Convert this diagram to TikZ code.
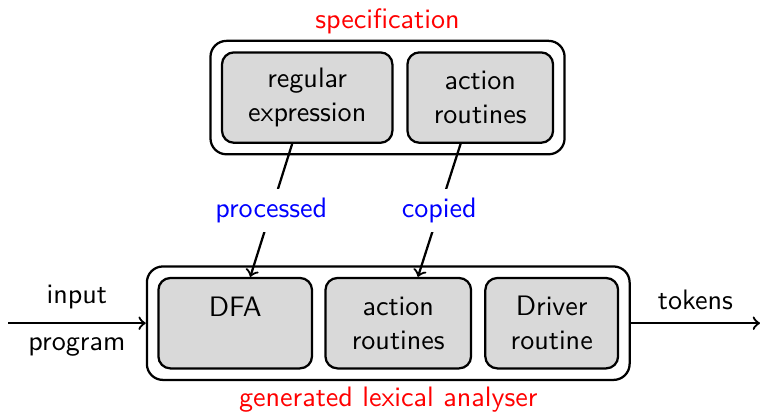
\documentclass[tikz,border=0pt]{standalone}
\usetikzlibrary{positioning,fit}
\begin{document}
\begin{tikzpicture}[font=\sffamily,
    part/.style={draw,thick,rounded corners=1.5mm,fill=gray!30,align=center,minimum height=1.13cm,inner sep=2pt},
    outer/.style={draw,thick,rounded corners=2mm,inner sep=0.13cm},
    flow/.style={thick,->}]
    \useasboundingbox (0,0) rectangle (9.5,5.15);
    \node [part,minimum width=2.13cm] (regexp) at (3.84,3.93) {regular\\expression};
    \node [part,minimum width=1.82cm,right=0.16cm of regexp] (acttop) {action\\routines};
    \node [outer,fit=(regexp)(acttop),label={[red,inner sep=2pt]above:specification}] (spec) {};
    \node [part,minimum width=1.92cm] (dfa) at (2.94,1.11) {DFA\\\mbox{}};
    \node [part,minimum width=1.82cm,right=0.14cm of dfa] (actbot) {action\\routines};
    \node [part,minimum width=1.66cm,right=0.15cm of actbot] (driver) {Driver\\routine};
    \node [outer,fit=(dfa)(actbot)(driver),label={[red,inner sep=2pt]below:generated lexical analyser}] (lexer) {};
    \coordinate (src) at (0.1,1.11);
    \coordinate (dst) at (9.5,1.11);
    \draw [flow] (src) -- (lexer.west) node [midway,above=1.5pt] {input} node [midway,below=1.5pt] {program};
    \draw [flow] (lexer.east) -- (dst) node [midway,above=1pt] {tokens};
    \draw [flow] (regexp.252) -- (dfa.72) node [midway,fill=white,text=blue] {processed};
    \draw [flow] (acttop.247) -- (actbot.67) node [midway,fill=white,text=blue] {copied};
\end{tikzpicture}
\end{document}
